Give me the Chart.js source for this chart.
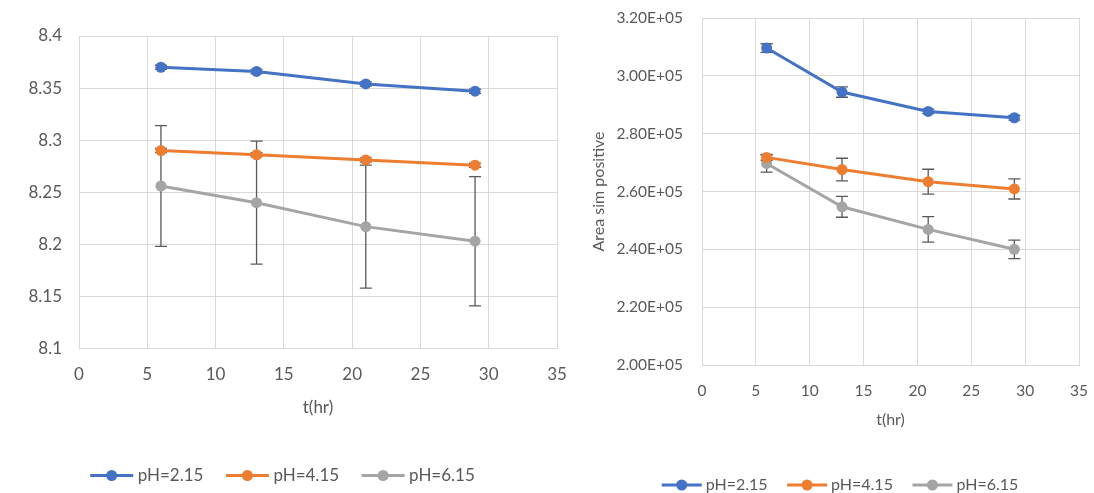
<!DOCTYPE html>
<html>
<head>
<meta charset="utf-8">
<script src="https://cdn.jsdelivr.net/npm/chart.js@4.4.0/dist/chart.umd.min.js"></script>
<style>
  html, body { margin: 0; padding: 0; background: #fff; overflow: hidden; width: 1094px; height: 493px; }
  #wrapL { position: absolute; left: 0; top: 0; }
  #wrapR { position: absolute; left: 585px; top: 0; }
</style>
</head>
<body>
<div id="wrapL"><canvas id="chartL" width="575" height="500"></canvas></div>
<div id="wrapR"><canvas id="chartR" width="509" height="510"></canvas></div>
<script>
// sampling times (hr)
const times = [6, 13, 21, 29];
const seriesNames = ['pH=2.15', 'pH=4.15', 'pH=6.15'];
const seriesColors = ['#4472C4', '#ED7D31', '#A5A5A5'];

// left chart values + error bars
const leftBlue = [8.370, 8.366, 8.354, 8.347];
const leftOrange = [8.290, 8.286, 8.281, 8.276];
const leftGray = [8.256, 8.240, 8.217, 8.203];
const leftBlueErr = [0.002, 0.002, 0.002, 0.002];
const leftOrangeErr = [0.002, 0.002, 0.002, 0.002];
const leftGrayErr = [0.058, 0.059, 0.059, 0.062];

// right chart values + error bars (Area sim positive)
const rightBlue = [309600, 294400, 287700, 285500];
const rightOrange = [271800, 267600, 263400, 260900];
const rightGray = [269700, 254700, 246900, 240000];
const rightBlueErr = [1500, 1800, 800, 800];
const rightOrangeErr = [1000, 3900, 4300, 3500];
const rightGrayErr = [3000, 3600, 4400, 3200];

// axis tick ranges
const xTicks = { min: 0, max: 35, step: 5 };
const leftYTicks = { min: 8.1, max: 8.4, step: 0.05 };
const rightYTicks = { min: 200000, max: 320000, step: 20000 };

const FONT = 'Lato';
const TEXT = '#595959';
const GRID = '#d9d9d9';

// draw error bars under each series' own line/markers
const errorBars = {
    id: 'errorBars',
    beforeDatasetDraw(chart, args) {
        const ds = chart.data.datasets[args.index];
        if (!ds.errors) return;
        const yScale = chart.scales.y;
        const ctx = chart.ctx;
        ctx.save();
        ctx.strokeStyle = '#595959';
        ctx.lineWidth = 1.3;
        args.meta.data.forEach((pt, i) => {
            const v = ds.data[i].y;
            const e = ds.errors[i];
            const top = yScale.getPixelForValue(v + e);
            const bot = yScale.getPixelForValue(v - e);
            ctx.beginPath();
            ctx.moveTo(pt.x, top); ctx.lineTo(pt.x, bot);
            ctx.moveTo(pt.x - 6, top); ctx.lineTo(pt.x + 6, top);
            ctx.moveTo(pt.x - 6, bot); ctx.lineTo(pt.x + 6, bot);
            ctx.stroke();
        });
        ctx.restore();
    }
};

// legend symbol: a line with a marker circle in the middle (Excel style)
const legendMarkers = {
    id: 'legendMarkers',
    afterDraw(chart) {
        const legend = chart.legend;
        if (!legend || !legend.legendHitBoxes) return;
        const len = chart.options.plugins.legendMarkers.lineLength;
        const ctx = chart.ctx;
        legend.legendHitBoxes.forEach((hb, i) => {
            const cy = hb.top + hb.height / 2;
            ctx.save();
            ctx.strokeStyle = seriesColors[i];
            ctx.fillStyle = seriesColors[i];
            ctx.lineWidth = 3;
            ctx.beginPath();
            ctx.moveTo(hb.left, cy);
            ctx.lineTo(hb.left + len, cy);
            ctx.stroke();
            ctx.beginPath();
            ctx.arc(hb.left + len / 2, cy, 5.5, 0, Math.PI * 2);
            ctx.fill();
            ctx.restore();
        });
    }
};

// scales add label overhang + tick padding to the layout; the layout padding handles that here
function noScalePadding(s) {
    s.paddingLeft = s.paddingRight = s.paddingTop = s.paddingBottom = 0;
}

function makeDatasets(values, errors) {
    return values.map((vals, k) => ({
        label: seriesNames[k],
        data: times.map((t, i) => ({ x: t, y: vals[i] })),
        errors: errors[k],
        borderColor: seriesColors[k],
        backgroundColor: seriesColors[k],
        borderWidth: 3,
        pointRadius: 5.5,
        pointHoverRadius: 5.5,
        pointBorderWidth: 0,
        tension: 0
    }));
}

function sciLabel(v) {
    const parts = v.toExponential(2).split('e');
    const n = parseInt(parts[1], 10);
    return parts[0] + 'E' + (n < 0 ? '-' : '+') + String(Math.abs(n)).padStart(2, '0');
}

function buildChart(id, cfg) {
    return new Chart(document.getElementById(id), {
        type: 'line',
        data: { datasets: makeDatasets(cfg.values, cfg.errors) },
        options: {
            responsive: false,
            animation: false,
            layout: { padding: cfg.padding },
            plugins: {
                tooltip: { enabled: false },
                legendMarkers: { lineLength: cfg.legendLine },
                legend: {
                    position: 'bottom',
                    labels: {
                        // box is shorter than the drawn line so the text sits close to it
                        boxWidth: cfg.legendLine - 4,
                        boxHeight: 3,
                        padding: cfg.legendPad,
                        color: TEXT,
                        font: { family: FONT, size: cfg.legendFont },
                        generateLabels: chart => chart.data.datasets.map((ds, i) => ({
                            text: ds.label,
                            fillStyle: 'rgba(0,0,0,0)',
                            strokeStyle: 'rgba(0,0,0,0)',
                            lineWidth: 0,
                            fontColor: TEXT,
                            datasetIndex: i
                        }))
                    }
                }
            },
            scales: {
                x: {
                    type: 'linear',
                    min: xTicks.min,
                    max: xTicks.max,
                    afterFit: s => { s.height = cfg.xHeight; noScalePadding(s); },
                    ticks: { stepSize: xTicks.step, color: TEXT, padding: cfg.xTickPad, font: { family: FONT, size: cfg.tickFont } },
                    grid: { color: GRID, drawTicks: false },
                    border: { color: GRID },
                    title: { display: true, text: 't(hr)', color: TEXT, font: { family: FONT, size: cfg.titleFont }, padding: { top: 0, bottom: cfg.xTitlePad } }
                },
                y: {
                    min: cfg.y.min,
                    max: cfg.y.max,
                    afterFit: s => { s.width = cfg.yWidth; noScalePadding(s); },
                    ticks: { stepSize: cfg.y.step, color: TEXT, padding: cfg.yTickPad, font: { family: FONT, size: cfg.tickFont }, callback: cfg.fmt },
                    grid: { color: GRID, drawTicks: false },
                    border: { color: GRID },
                    title: cfg.yTitle
                }
            }
        },
        plugins: [errorBars, legendMarkers]
    });
}

buildChart('chartL', {
    values: [leftBlue, leftOrange, leftGray],
    errors: [leftBlueErr, leftOrangeErr, leftGrayErr],
    y: leftYTicks,
    fmt: v => String(+v.toFixed(2)),
    padding: { left: 8, top: 36, right: 18, bottom: 6 },
    xHeight: 96, yWidth: 71,
    xTickPad: 16, yTickPad: 17, xTitlePad: 27,
    tickFont: 17, titleFont: 17, legendFont: 17,
    legendLine: 43, legendPad: 22.5,
    yTitle: { display: false }
});

buildChart('chartR', {
    values: [rightBlue, rightOrange, rightGray],
    errors: [rightBlueErr, rightOrangeErr, rightGrayErr],
    y: rightYTicks,
    fmt: sciLabel,
    padding: { left: 16, top: 18, right: 15, bottom: 7 },
    xHeight: 92.5, yWidth: 101,
    xTickPad: 17, yTickPad: 19, xTitlePad: 28,
    tickFont: 15.5, titleFont: 16, legendFont: 16,
    legendLine: 40, legendPad: 19.5,
    yTitle: { display: true, text: 'Area sim positive', color: TEXT, font: { family: FONT, size: 16 }, padding: { top: -12, bottom: 0 } }
});
</script>
</body>
</html>
